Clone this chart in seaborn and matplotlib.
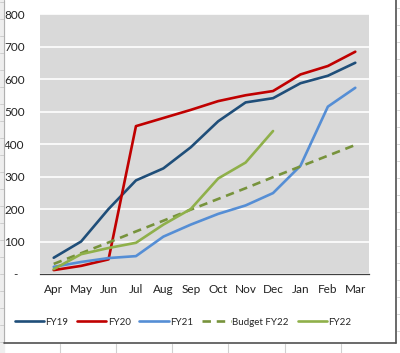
import matplotlib.pyplot as plt
import seaborn as sns
import numpy as np
from matplotlib.lines import Line2D

# monthly cumulative values
months = ['Apr', 'May', 'Jun', 'Jul', 'Aug', 'Sep', 'Oct', 'Nov', 'Dec', 'Jan', 'Feb', 'Mar']
fy19 = [50, 100, 200, 288, 325, 390, 470, 528, 541, 587, 610, 650]
fy20 = [12, 25, 45, 455, 480, 505, 532, 550, 563, 614, 640, 684]
fy21 = [22, 37, 49, 55, 115, 152, 185, 211, 249, 333, 515, 573]
budget_fy22 = [31, 64, 97, 131, 164, 198, 231, 264, 298, 331, 364, 397]
fy22 = [15, 61, 80, 96, 152, 200, 294, 343, 440]
yticks = [0, 100, 200, 300, 400, 500, 600, 700, 800]
ylabels = ['-  ', '100', '200', '300', '400', '500', '600', '700', '800']

sns.set_style('white')
plt.rcParams['font.family'] = ['Lato', 'DejaVu Sans']

fig = plt.figure(figsize=(4, 3.53), dpi=100)
ax = fig.add_axes([0.1, 0.2238, 0.8225, 0.7365])
ax.set_facecolor('#d9d9d9')

x = np.arange(len(months))
lw = 1.9
sns.lineplot(x=x, y=fy19, color='#1f4e79', lw=lw, ax=ax, label='FY19')
sns.lineplot(x=x, y=fy20, color='#c00000', lw=lw, ax=ax, label='FY20')
sns.lineplot(x=x, y=fy21, color='#558ed5', lw=lw, ax=ax, label='FY21')
sns.lineplot(x=x, y=budget_fy22, color='#77933c', lw=lw, ax=ax, label='Budget FY22')
ax.lines[-1].set_dashes([3.2, 2.2])
sns.lineplot(x=x[:len(fy22)], y=fy22, color='#8fb04a', lw=lw, ax=ax, label='FY22')

ax.set_xlim(-0.5, 11.5)
ax.set_ylim(0, 800)
ax.set_yticks(yticks)
ax.set_yticklabels(ylabels)
ax.set_xticks(x)
ax.set_xticklabels(months)
ax.set_xticks(np.arange(-0.5, 12, 1), minor=True)
ax.tick_params(axis='x', which='major', length=0, pad=7, labelsize=8.5, colors='#222222')
ax.tick_params(axis='x', which='minor', length=3.5, width=0.8, color='#404040', direction='out')
ax.tick_params(axis='y', length=0, pad=11, labelsize=8.5, colors='#222222')
ax.grid(axis='y', color='white', lw=1.2)
ax.set_axisbelow(True)
for s in ['left', 'right', 'top']:
    ax.spines[s].set_visible(False)
ax.spines['bottom'].set_color('#404040')
ax.spines['bottom'].set_linewidth(0.9)

ax.legend_.remove()
h, lab = ax.get_legend_handles_labels()
ax.legend(h, lab, loc='center', bbox_to_anchor=(0.435, -0.185), bbox_transform=ax.transAxes,
          ncol=5, frameon=False, fontsize=7, handlelength=3.0, handletextpad=0.15,
          columnspacing=0.9)

# spreadsheet cell grid around the chart object
W, H = 400, 353
def px(x0, y0, x1, y1, **kw):
    fig.add_artist(Line2D([x0 / W, x1 / W], [1 - y0 / H, 1 - y1 / H], transform=fig.transFigure, **kw))

fig.patches.append(plt.Rectangle((0, 0), 4 / W, 1, transform=fig.transFigure, color='#eeeeee', zorder=0))
for yy in range(2, 343, 17):
    px(0, yy, 4, yy, color='#c8c8c8', lw=0.6)
for xx in [60, 116, 172, 228, 285, 341]:
    px(xx, 344, xx, 353, color='#d0d0d0', lw=0.8)
for yy in range(8, 343, 17):
    px(397, yy, 400, yy, color='#d0d0d0', lw=0.6)
px(4, 0, 4, 343, color='#b0b0b0', lw=0.8)
px(396, 0, 396, 343, color='#505050', lw=1.2)
px(4, 342.5, 396, 342.5, color='#505050', lw=1.2)

fig.savefig('out.png', dpi=100)
